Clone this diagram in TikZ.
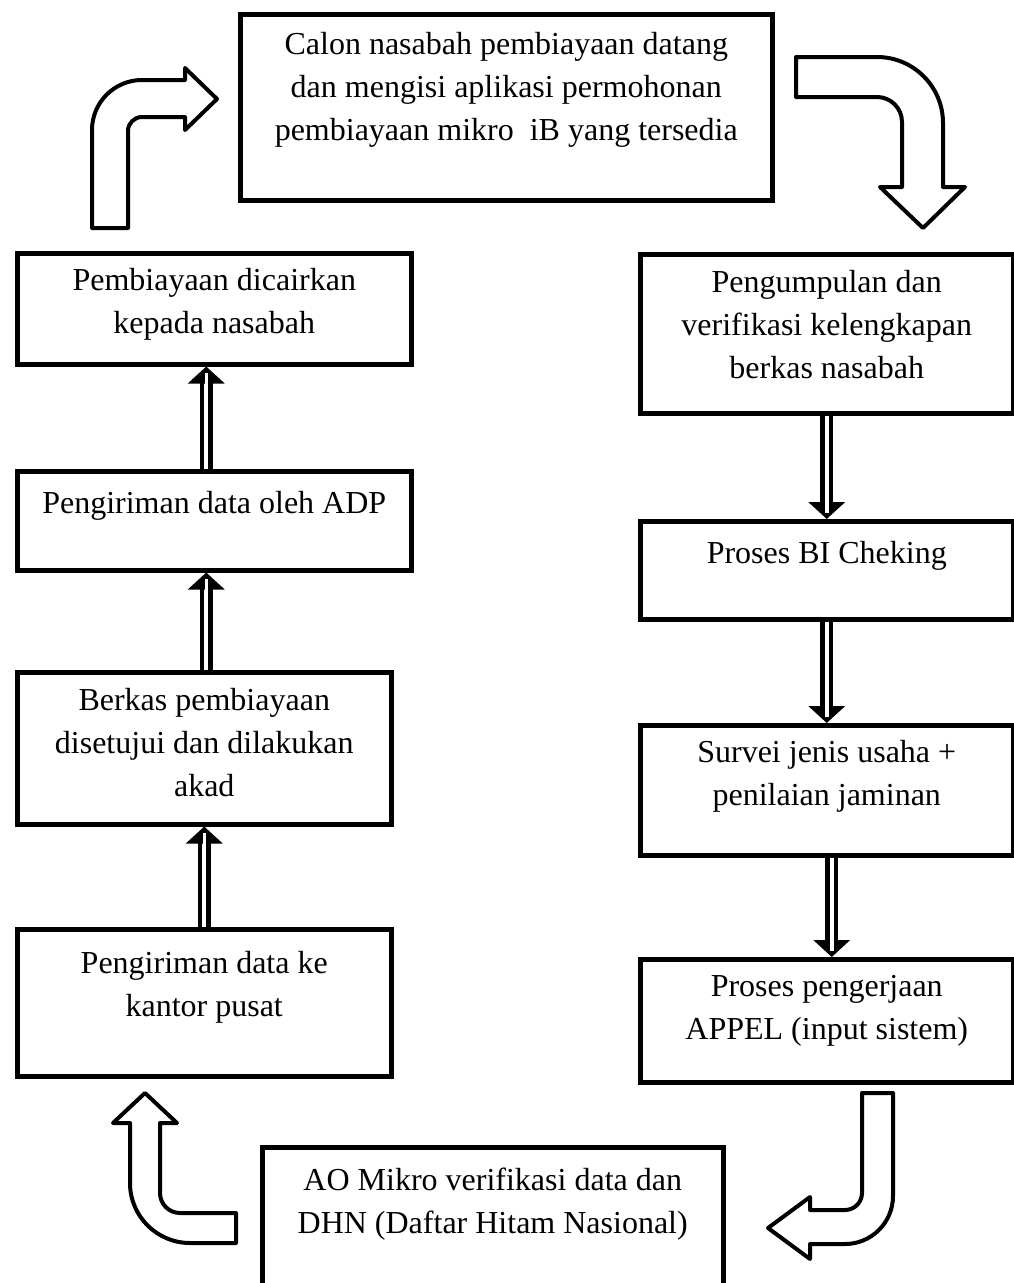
\documentclass[tikz,border=0pt]{standalone}
\usepackage{fontspec}
\setmainfont{Liberation Serif}
\usepackage{tikz}
\usetikzlibrary{positioning, arrows.meta}

\tikzset{
    stepbox/.style = {draw, rectangle, line width = 4.5pt, anchor = north west, inner sep = 0pt},
    steptext/.style = {align = center, inner sep = 0pt, font = \fontsize{32}{43}\selectfont},
    dblarrow/.style = {double, double distance = 4pt, line width = 4.5pt, -{Triangle[width = 36pt, length = 17pt]}},
    dblslit/.style = {draw = white, line width = 3.5pt, shorten > = 6pt},
    bentarrow/.style = {draw, fill = white, line width = 4pt, line join = round}
}

\begin{document}
\begin{tikzpicture}[x = 1pt, y = 1pt]
        \useasboundingbox (0, 0) rectangle (1013, -1283);

        % Nodes
        \node [stepbox, minimum width = 532pt, minimum height = 186pt] (calon) at (238, -12) {};
        \node [stepbox, minimum width = 373pt, minimum height = 159pt] (pengumpulan) at (638, -252) {};
        \node [stepbox, minimum width = 373pt, minimum height = 98pt] (bicheck) at (638, -519) {};
        \node [stepbox, minimum width = 373pt, minimum height = 130pt] (survei) at (638, -723) {};
        \node [stepbox, minimum width = 373pt, minimum height = 123pt] (appel) at (638, -957) {};
        \node [stepbox, minimum width = 461pt, minimum height = 160pt] (dhn) at (260, -1145) {};
        \node [stepbox, minimum width = 374pt, minimum height = 147pt] (kantor) at (15, -927) {};
        \node [stepbox, minimum width = 374pt, minimum height = 152pt] (akad) at (15, -670) {};
        \node [stepbox, minimum width = 394pt, minimum height = 99pt] (adp) at (15, -469) {};
        \node [stepbox, minimum width = 394pt, minimum height = 111pt] (cair) at (15, -251) {};

        % Node texts
        \node [steptext, below = 20pt of calon.north] (calontext) {Calon nasabah pembiayaan datang\\dan mengisi aplikasi permohonan\\pembiayaan mikro\ \ iB yang tersedia};
        \node [steptext, below = 18pt of pengumpulan.north] (pengumpulantext) {Pengumpulan dan\\verifikasi kelengkapan\\berkas nasabah};
        \node [steptext, below = 22pt of bicheck.north] (bichecktext) {Proses BI Cheking};
        \node [steptext, below = 17pt of survei.north] (surveitext) {Survei jenis usaha +\\penilaian jaminan};
        \node [steptext, below = 18pt of appel.north] (appeltext) {Proses pengerjaan\\APPEL (input sistem)};
        \node [steptext, below = 23pt of dhn.north] (dhntext) {AO Mikro verifikasi data dan\\DHN (Daftar Hitam Nasional)};
        \node [steptext, below = 24pt of kantor.north] (kantortext) {Pengiriman data ke\\kantor pusat};
        \node [steptext, below = 18pt of akad.north] (akadtext) {Berkas pembiayaan\\disetujui dan dilakukan\\akad};
        \node [steptext, below = 22pt of adp.north] (adptext) {Pengiriman data oleh ADP};
        \node [steptext, below = 17pt of cair.north] (cairtext) {Pembiayaan dicairkan\\kepada nasabah};

        % Draw the links
        \draw [dblarrow] (pengumpulan.south) -- (pengumpulan.south |- bicheck.north);
        \draw [dblslit] (pengumpulan.south) -- (pengumpulan.south |- bicheck.north);
        \draw [dblarrow] (bicheck.south) -- (bicheck.south |- survei.north);
        \draw [dblslit] (bicheck.south) -- (bicheck.south |- survei.north);
        \draw [dblarrow] ([xshift = 5pt]survei.south) -- ([xshift = 5pt]survei.south |- appel.north);
        \draw [dblslit] ([xshift = 5pt]survei.south) -- ([xshift = 5pt]survei.south |- appel.north);
        \draw [dblarrow] (kantor.north) -- (kantor.north |- akad.south);
        \draw [dblslit] (kantor.north) -- (kantor.north |- akad.south);
        \draw [dblarrow] ([xshift = 2pt]akad.north) -- ([xshift = 2pt]akad.north |- adp.south);
        \draw [dblslit] ([xshift = 2pt]akad.north) -- ([xshift = 2pt]akad.north |- adp.south);
        \draw [dblarrow] ([xshift = -8pt]adp.north) -- ([xshift = -8pt]adp.north |- cair.south);
        \draw [dblslit] ([xshift = -8pt]adp.north) -- ([xshift = -8pt]adp.north |- cair.south);

        % Bent arrows
        \draw [bentarrow] (796, -57) -- (877, -57) arc [start angle = 90, end angle = 0, radius = 66]
            -- (943, -187) -- (965, -187) -- (923, -228) -- (880, -187) -- (902, -187)
            -- (902, -122) arc [start angle = 0, end angle = 90, radius = 25] -- (796, -97) -- cycle;
        \draw [bentarrow] (862, -1093) -- (893, -1093) -- (893, -1196) arc [start angle = 0, end angle = -90, radius = 48]
            -- (810, -1244) -- (810, -1259) -- (768, -1228) -- (810, -1197) -- (810, -1210)
            -- (845, -1210) arc [start angle = 270, end angle = 360, radius = 17] -- cycle;
        \draw [bentarrow] (236, -1213) -- (180, -1213) arc [start angle = 270, end angle = 180, radius = 20]
            -- (160, -1123) -- (177, -1123) -- (145, -1093) -- (113, -1123) -- (130, -1123)
            -- (130, -1183) arc [start angle = 180, end angle = 270, radius = 60] -- (236, -1243) -- cycle;
        \draw [bentarrow] (92, -228) -- (92, -130) arc [start angle = 180, end angle = 90, radius = 50]
            -- (185, -80) -- (185, -68) -- (217, -99) -- (185, -130) -- (185, -117)
            -- (142, -117) arc [start angle = 90, end angle = 180, radius = 14] -- (128, -228) -- cycle;

\end{tikzpicture}
\end{document}
